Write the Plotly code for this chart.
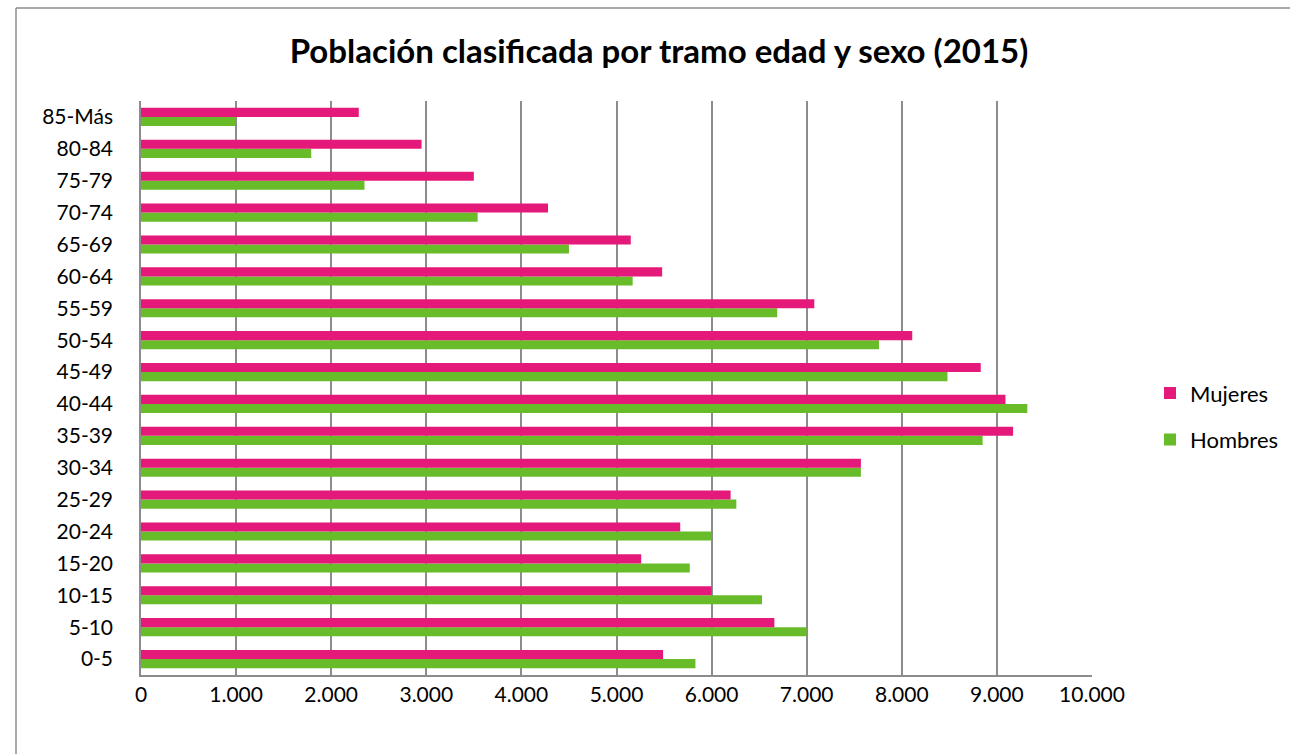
import plotly.graph_objects as go

categorias = ["0-5", "5-10", "10-15", "15-20", "20-24", "25-29", "30-34", "35-39",
              "40-44", "45-49", "50-54", "55-59", "60-64", "65-69", "70-74",
              "75-79", "80-84", "85-Más"]
mujeres = [5490, 6660, 6000, 5260, 5670, 6200, 7570, 9170,
           9090, 8830, 8110, 7080, 5480, 5150, 4280,
           3500, 2950, 2290]
hombres = [5830, 7000, 6530, 5770, 6000, 6260, 7570, 8850,
           9320, 8480, 7760, 6690, 5170, 4500, 3540,
           2350, 1790, 990]
x_ticks = list(range(0, 10001, 1000))

ROSA = "#E4197A"
VERDE = "#68BC29"
FONT = "Lato"

fig = go.Figure()
fig.add_trace(go.Bar(y=categorias, x=hombres, name="Hombres", orientation="h",
                     marker=dict(color=VERDE, line=dict(width=0)),
                     legendgroup="h", legendrank=2))
fig.add_trace(go.Bar(y=categorias, x=mujeres, name="Mujeres", orientation="h",
                     marker=dict(color=ROSA, line=dict(width=0)),
                     legendgroup="m", legendrank=1))

fig.update_layout(
    width=1290, height=754,
    margin=dict(l=141, r=198, t=101, b=79, autoexpand=False),
    paper_bgcolor="white", plot_bgcolor="white",
    barmode="group", bargap=0.43, bargroupgap=0,
    separators=",.",
    font=dict(family=FONT, size=21, color="black"),
    title=dict(text="<b>Población clasificada por tramo edad y sexo (2015)</b>",
               x=659 / 1290, xref="container", xanchor="center",
               y=1 - 51 / 754, yanchor="middle",
               font=dict(family=FONT, size=33, color="black")),
    legend=dict(x=1150 / 1290, xref="container", xanchor="left",
                y=0.45, yanchor="middle",
                traceorder="grouped", tracegroupgap=15,
                font=dict(family=FONT, size=22, color="black"),
                itemwidth=30),
    showlegend=True,
    xaxis=dict(range=[0, 10000], tickvals=x_ticks, tickformat=",d",
               showgrid=True, gridcolor="#8C8C8C", gridwidth=1.5,
               showline=True, linecolor="#8C8C8C", linewidth=1.5,
               zeroline=False, ticks="", ticklabelstandoff=0,
               tickfont=dict(family=FONT, size=21, color="black"), fixedrange=True),
    yaxis=dict(categoryorder="array", categoryarray=categorias,
               showgrid=False, showline=True, linecolor="#8C8C8C", linewidth=1.5,
               ticks="", ticklabelstandoff=22,
               tickfont=dict(family=FONT, size=21, color="black"), fixedrange=True),
)

# outer chart border (left and top edges visible in the reference)
bx0 = (16 - 141) / 951
bx1 = (1330 - 141) / 951
by0 = (675 - 780) / 574
by1 = (675 - 8) / 574
for x0, y0, x1, y1 in [(bx0, by0, bx0, by1), (bx0, by1, bx1, by1)]:
    fig.add_shape(type="line", xref="paper", yref="paper",
                  x0=x0, y0=y0, x1=x1, y1=y1,
                  line=dict(color="#8C8C8C", width=1.5), layer="below")

fig.write_html("out.html",
               config={"displayModeBar": False},
               post_script="document.body.style.margin='0';"
                           "document.body.style.overflow='hidden';")
